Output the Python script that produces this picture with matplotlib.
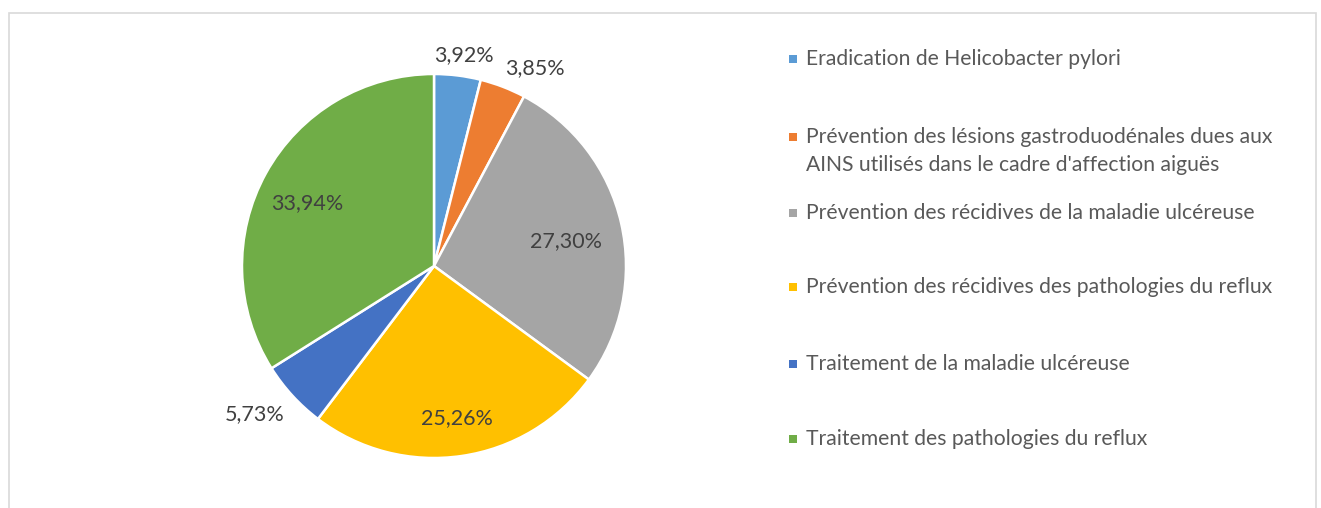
import numpy as np
import matplotlib
matplotlib.use("Agg")
import matplotlib.pyplot as plt
from matplotlib.patches import Rectangle

# répartition des indications
categories = [
    "Eradication de Helicobacter pylori",
    "Prévention des lésions gastroduodénales dues aux\nAINS utilisés dans le cadre d'affection aiguës",
    "Prévention des récidives de la maladie ulcéreuse",
    "Prévention des récidives des pathologies du reflux",
    "Traitement de la maladie ulcéreuse",
    "Traitement des pathologies du reflux",
]
values = [3.92, 3.85, 27.30, 25.26, 5.73, 33.94]
colors = ["#5B9BD5", "#ED7D31", "#A5A5A5", "#FFC000", "#4472C4", "#70AD47"]

# placement of the percentage labels: distance (radii) and angular nudge (deg)
label_radius = [1.11, 1.16, 0.70, 0.80, 1.21, 0.74]
label_shift = [-1.0, -6.0, -2.3, 0.4, -3.0, 2.5]
legend_y = [59, 137, 213, 287, 364, 439]
line_gap = 28

W, H = 1321, 508
plt.rcParams['font.family'] = ['Lato', 'DejaVu Sans']
fig = plt.figure(figsize=(W / 100, H / 100), dpi=100)

# light grey chart border
fig.patches.append(Rectangle((9 / W, -0.1), 1307 / W, 495 / H + 0.1,
                             transform=fig.transFigure, fill=False,
                             edgecolor="#D9D9D9", linewidth=1.2))

cx, cy, r = 434, 266, 192
ax = fig.add_axes([(cx - r) / W, (H - cy - r) / H, 2 * r / W, 2 * r / H])
wedges, _ = ax.pie(values, colors=colors, startangle=90, counterclock=False,
                   radius=1, wedgeprops=dict(edgecolor="white", linewidth=1.8))
ax.set_xlim(-1, 1)
ax.set_ylim(-1, 1)
ax.set_aspect("equal")
ax.axis("off")

for w, v, rr, sh in zip(wedges, values, label_radius, label_shift):
    mid = np.deg2rad((w.theta1 + w.theta2) / 2 + sh)
    ax.text(rr * np.cos(mid), rr * np.sin(mid), f"{v:.2f}%".replace(".", ","),
            ha="center", va="center", fontsize=15.5, color="#404040")

for name, col, y in zip(categories, colors, legend_y):
    fig.patches.append(Rectangle((789 / W, (H - y - 4) / H), 8 / W, 8 / H,
                                 transform=fig.transFigure, facecolor=col,
                                 edgecolor="none"))
    for i, line in enumerate(name.split("\n")):
        fig.text(806 / W, (H - y - i * line_gap) / H, line, ha="left",
                 va="center", fontsize=15.2, color="#595959")

fig.savefig("out.png", dpi=100)
